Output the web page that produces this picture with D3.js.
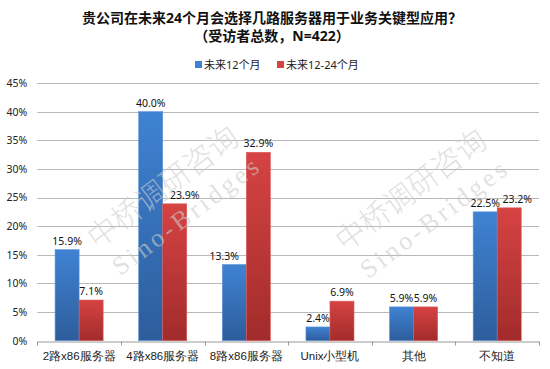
<!DOCTYPE html>
<html>
<head>
<meta charset="utf-8">
<script src="https://cdn.jsdelivr.net/npm/d3@7"></script>
<style>
  html, body { margin: 0; padding: 0; background: #fff; }
  svg { display: block; font-family: "Noto Sans", "Noto Sans CJK SC", sans-serif; }
</style>
</head>
<body>
<div id="chart"></div>
<script>
/** Chart data */
const titleLines = ["贵公司在未来24个月会选择几路服务器用于业务关键型应用？", "（受访者总数，N=422）"];
const categories = ["2路x86服务器", "4路x86服务器", "8路x86服务器", "Unix小型机", "其他", "不知道"];
const seriesNames = ["未来12个月", "未来12-24个月"];
const next12 = [15.9, 40.0, 13.3, 2.4, 5.9, 22.5];
const next12to24 = [7.1, 23.9, 32.9, 6.9, 5.9, 23.2];
const yTicks = [0, 5, 10, 15, 20, 25, 30, 35, 40, 45];
const watermarkLines = ["中桥调研咨询", "Sino-Bridges"];

/** Layout */
const width = 550;
const height = 369;
const plot = { left: 37.3, right: 539, top: 83, bottom: 340.7 };
const colors = [
  { top: "#3f82d3", bottom: "#2d5d9b" },
  { top: "#d64343", bottom: "#a22b2b" },
];
/** Hand-moved value labels in the original (category index + series index -> px) */
const labelNudge = { "1-1": 10, "2-0": -10, "5-1": 8 };

const rows = categories.map((c, i) => ({ category: c, index: i, values: [next12[i], next12to24[i]] }));

const svg = d3.select("#chart").append("svg").attr("width", width).attr("height", height);

/** Gradients for bars */
const defs = svg.append("defs");
colors.forEach((c, i) => {
  const g = defs.append("linearGradient").attr("id", "grad" + i)
    .attr("x1", 0).attr("y1", 0).attr("x2", 0).attr("y2", 1);
  g.append("stop").attr("offset", "0%").attr("stop-color", c.top);
  g.append("stop").attr("offset", "100%").attr("stop-color", c.bottom);
});

/** Scales */
const x0 = d3.scaleBand().domain(categories).range([plot.left, plot.right]).padding(0);
const x1 = d3.scaleBand().domain(d3.range(seriesNames.length))
  .range([0, x0.bandwidth()]).paddingInner(0).paddingOuter(0.74);
const y = d3.scaleLinear().domain([0, 45]).range([plot.bottom, plot.top]);

/** Gridlines */
svg.append("g")
  .selectAll("line")
  .data(yTicks.slice(1))
  .join("line")
  .attr("x1", plot.left).attr("x2", plot.right)
  .attr("y1", (d) => Math.round(y(d)) + 0.5).attr("y2", (d) => Math.round(y(d)) + 0.5)
  .attr("stroke", "#b8b8b8").attr("stroke-width", 1);

/** Y axis labels */
const yAxis = svg.append("g")
  .attr("transform", `translate(${plot.left},0)`)
  .call(d3.axisLeft(y).tickValues(yTicks).tickFormat((d) => d + "%").tickSize(0).tickPadding(10));
yAxis.select(".domain").remove();
yAxis.selectAll("text").attr("font-size", 10.5).attr("fill", "#222")
  .attr("font-family", "'Noto Sans', sans-serif");

/** X axis */
const xAxis = svg.append("g")
  .attr("transform", `translate(0,${Math.round(plot.bottom) + 0.5})`)
  .call(d3.axisBottom(x0).tickSize(0).tickPadding(10));
xAxis.select(".domain").attr("stroke", "#999");
xAxis.selectAll("text").attr("font-size", 11.5).attr("fill", "#222");
xAxis.append("g")
  .selectAll("line")
  .data(d3.range(categories.length + 1))
  .join("line")
  .attr("x1", (d) => Math.round(plot.left + d * x0.step()) + 0.5)
  .attr("x2", (d) => Math.round(plot.left + d * x0.step()) + 0.5)
  .attr("y1", 0).attr("y2", 4)
  .attr("stroke", "#999");

/** Bars */
const groups = svg.append("g")
  .selectAll("g")
  .data(rows)
  .join("g")
  .attr("transform", (d) => `translate(${x0(d.category)},0)`);

groups.selectAll("rect")
  .data((d) => d.values)
  .join("rect")
  .attr("x", (_, i) => x1(i))
  .attr("y", (d) => y(d))
  .attr("width", x1.bandwidth())
  .attr("height", (d) => y(0) - y(d))
  .attr("fill", (_, i) => `url(#grad${i})`)
  .attr("stroke", (_, i) => (i === 0 ? "#5b93d8" : "#dc5a5a"))
  .attr("stroke-width", 0.6);

/** Watermarks over the bars */
const marks = [
  { cx: 174, cy: 202 },
  { cx: 422, cy: 205 },
];
const wm = svg.append("g").attr("pointer-events", "none")
  .selectAll("g")
  .data(marks)
  .join("g")
  .attr("transform", (d) => `translate(${d.cx},${d.cy}) rotate(-37)`);
wm.append("text")
  .attr("y", -8)
  .attr("text-anchor", "middle")
  .attr("font-size", 30)
  .attr("font-family", "'Noto Sans CJK SC', sans-serif")
  .attr("font-weight", 200)
  .attr("fill", "rgba(205,205,205,0.6)")
  .text(watermarkLines[0]);
wm.append("text")
  .attr("y", 27)
  .attr("dx", 2)
  .attr("text-anchor", "middle")
  .attr("font-size", 26)
  .attr("letter-spacing", 3.5)
  .attr("font-family", "'Liberation Serif', serif")
  .attr("fill", "rgba(205,205,205,0.6)")
  .text(watermarkLines[1]);

/** Value labels */
groups.selectAll("text")
  .data((d) => d.values.map((v, i) => ({ v, key: d.index + "-" + i })))
  .join("text")
  .attr("x", (d, i) => x1(i) + x1.bandwidth() / 2 + (labelNudge[d.key] || 0))
  .attr("y", (d) => y(d.v) - 5)
  .attr("text-anchor", "middle")
  .attr("font-size", 10.5)
  .attr("fill", "#111")
  .text((d) => d.v.toFixed(1) + "%");

/** Title */
svg.append("text")
  .attr("x", 271).attr("y", 23)
  .attr("text-anchor", "middle")
  .attr("font-size", 14).attr("font-weight", "bold").attr("fill", "#111")
  .selectAll("tspan")
  .data(titleLines)
  .join("tspan")
  .attr("x", 272)
  .attr("dy", (_, i) => (i === 0 ? 0 : 18))
  .text((d) => d);

/** Legend */
const legendX = [195, 277];
const legend = svg.append("g")
  .selectAll("g")
  .data(seriesNames)
  .join("g")
  .attr("transform", (_, i) => `translate(${legendX[i]},65)`);
legend.append("rect")
  .attr("x", 0).attr("y", -4).attr("width", 7).attr("height", 7)
  .attr("fill", (_, i) => colors[i].top);
legend.append("text")
  .attr("x", 9).attr("y", 4)
  .attr("font-size", 11).attr("fill", "#222")
  .text((d) => d);
</script>
</body>
</html>
